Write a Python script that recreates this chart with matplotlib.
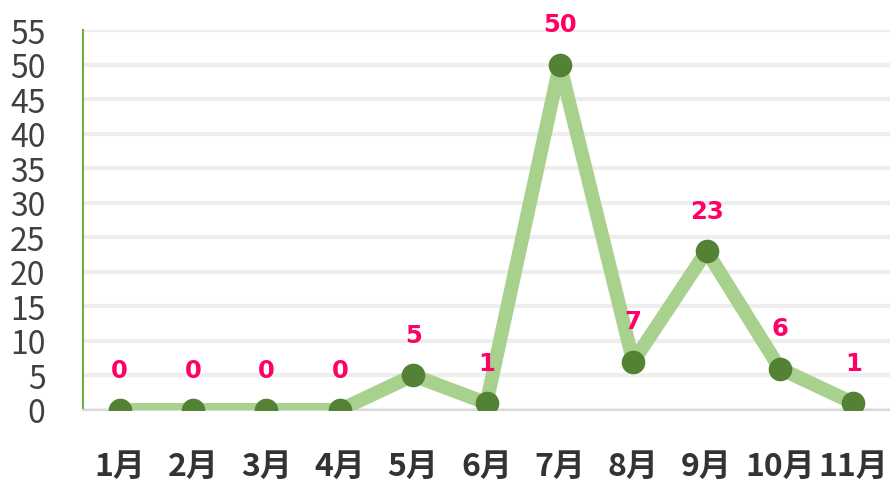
import matplotlib
matplotlib.use('Agg')
import matplotlib.pyplot as plt

months = ['1月', '2月', '3月', '4月', '5月', '6月', '7月', '8月', '9月', '10月', '11月']
counts = [0, 0, 0, 0, 5, 1, 50, 7, 23, 6, 1]
y_ticks = list(range(0, 60, 5))

plt.rcParams['font.family'] = ['Noto Sans CJK JP', 'DejaVu Sans']

fig = plt.figure(figsize=(8.9, 4.85), dpi=100)
ax = fig.add_axes([83 / 890, 1 - 411 / 485, 807 / 890, 380 / 485])

x = list(range(len(months)))
ax.plot(x, counts, color='#A9D18E', linewidth=10, solid_joinstyle='round',
        solid_capstyle='round', zorder=3)
ax.plot(x, counts, linestyle='none', marker='o', markersize=16,
        color='#548235', zorder=4)

for xi, v in zip(x, counts):
    ax.annotate(str(v), (xi, v), xytext=(0, 29), textcoords='offset points',
                ha='center', va='center', color='#FF0066', fontsize=17.5,
                fontweight='heavy', family='DejaVu Sans', zorder=5)

ax.set_xlim(-0.5, len(months) - 0.5)
ax.set_ylim(0, 55)
ax.set_yticks(y_ticks)
ax.set_yticklabels([str(t) for t in y_ticks], fontsize=23, color='#404040')
ax.set_xticks(x)
ax.set_xticklabels(months, fontsize=23, fontweight='bold', color='#333333')
ax.tick_params(axis='both', length=0)
ax.tick_params(axis='x', pad=29)
ax.tick_params(axis='y', pad=27)

ax.grid(axis='y', color='#EEEEEE', linewidth=3)
ax.set_axisbelow(True)
for side in ['top', 'right']:
    ax.spines[side].set_visible(False)
ax.spines['left'].set_color('#70AD47')
ax.spines['left'].set_linewidth(1.5)
ax.spines['bottom'].set_color('#D9D9D9')
ax.spines['bottom'].set_linewidth(1.5)

fig.savefig('out.png', dpi=100)
